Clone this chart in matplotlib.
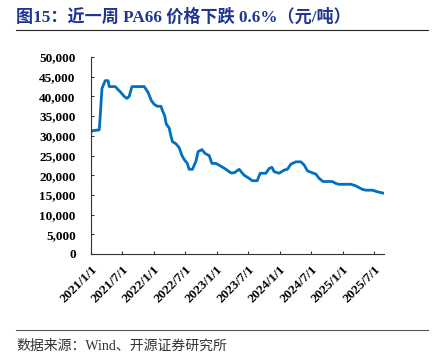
import matplotlib.pyplot as plt
import numpy as np
import pandas as pd

# PA66 price, yuan/ton
dates = ['2021-01-01', '2021-01-08', '2021-02-18', '2021-02-24', '2021-03-06', '2021-03-25',
         '2021-04-11', '2021-04-17', '2021-05-22', '2021-06-24', '2021-07-13', '2021-07-29',
         '2021-08-11', '2021-08-27', '2021-11-06', '2021-11-29', '2021-12-17', '2022-01-03',
         '2022-01-21', '2022-02-11', '2022-02-24', '2022-03-06', '2022-03-14', '2022-03-31',
         '2022-04-10', '2022-04-19', '2022-05-09', '2022-05-28', '2022-06-13', '2022-06-26',
         '2022-07-14', '2022-07-25', '2022-08-13', '2022-08-23', '2022-09-02', '2022-09-15',
         '2022-10-07', '2022-10-26', '2022-11-18', '2022-12-04', '2022-12-27', '2023-01-25',
         '2023-02-23', '2023-03-24', '2023-04-12', '2023-05-11', '2023-06-09', '2023-07-08',
         '2023-07-26', '2023-08-24', '2023-09-10', '2023-10-13', '2023-11-01', '2023-11-17',
         '2023-11-30', '2023-12-29', '2024-01-27', '2024-02-15', '2024-03-06', '2024-04-04',
         '2024-05-03', '2024-05-22', '2024-06-10', '2024-07-09', '2024-07-29', '2024-08-17',
         '2024-09-09', '2024-11-01', '2024-11-22', '2024-12-11', '2025-02-17', '2025-03-18',
         '2025-04-25', '2025-05-15', '2025-06-22', '2025-07-21', '2025-08-29']
prices = [30800, 31300, 31500, 35000, 42000, 44000,
          44000, 42500, 42500, 41000, 40000, 39500,
          40000, 42500, 42500, 41000, 39000, 38000,
          37500, 37500, 36000, 35000, 33000, 32000,
          30000, 28500, 28000, 27000, 25000, 24000,
          23000, 21500, 21500, 22500, 23500, 26000,
          26500, 25500, 25000, 23000, 23000, 22300,
          21500, 20600, 20600, 21500, 20000, 19200,
          18600, 18600, 20500, 20500, 21700, 22000,
          20900, 20500, 21300, 21500, 22800, 23400,
          23400, 22600, 21100, 20600, 20300, 19200,
          18400, 18400, 17900, 17700, 17700, 17300,
          16400, 16200, 16200, 15800, 15400]

x_ticks = ['2021/1/1', '2021/7/1', '2022/1/1', '2022/7/1', '2023/1/1',
           '2023/7/1', '2024/1/1', '2024/7/1', '2025/1/1', '2025/7/1']
y_ticks = [0, 5000, 10000, 15000, 20000, 25000, 30000, 35000, 40000, 45000, 50000]

title = '图15：近一周 PA66 价格下跌 0.6%（元/吨）'
source = '数据来源：Wind、开源证券研究所'

serif_cjk = ['Liberation Serif', 'Noto Sans CJK SC']

dt = pd.to_datetime(dates)
tick_dt = pd.to_datetime(x_ticks, format='%Y/%m/%d')

fig = plt.figure(figsize=(4.35, 3.61), dpi=100)
ax = fig.add_axes([0.209, 0.2964, 0.674, 0.5456])

ax.plot(dt, prices, color='#0070C0', lw=2)

ax.set_xlim(dt[0], dt[-1])
ax.set_ylim(0, 50000)
ax.set_xticks(tick_dt)
ax.set_xticklabels(x_ticks, rotation=45, ha='right', rotation_mode='anchor',
                   fontsize=9.5, fontweight='bold', family='Liberation Serif')
ax.set_yticks(y_ticks)
ax.set_yticklabels([f'{v:,}' for v in y_ticks], fontsize=9.5, fontweight='bold',
                   family='Liberation Serif')
ax.tick_params(direction='in', length=2.5, width=0.8, color='#333333', pad=7)
ax.tick_params(axis='y', pad=11)
for s in ['top', 'right']:
    ax.spines[s].set_visible(False)
for s in ['left', 'bottom']:
    ax.spines[s].set_color('#333333')
    ax.spines[s].set_linewidth(0.8)

# Header and footer
fig.text(16/435, 1 - 17/361, title, fontsize=12.3, fontweight='bold', color='#1F3590',
         family=serif_cjk, va='center', ha='left')
fig.add_artist(plt.Line2D([16/435, 428/435], [1 - 29.5/361, 1 - 29.5/361],
                          color='#222222', lw=0.8))
fig.add_artist(plt.Line2D([16/435, 428/435], [1 - 330/361, 1 - 330/361],
                          color='#555555', lw=0.8))
fig.text(16/435, 1 - 346/361, source, fontsize=10, color='#333333',
         family=serif_cjk, va='center', ha='left')

fig.savefig('out.png', dpi=100)
